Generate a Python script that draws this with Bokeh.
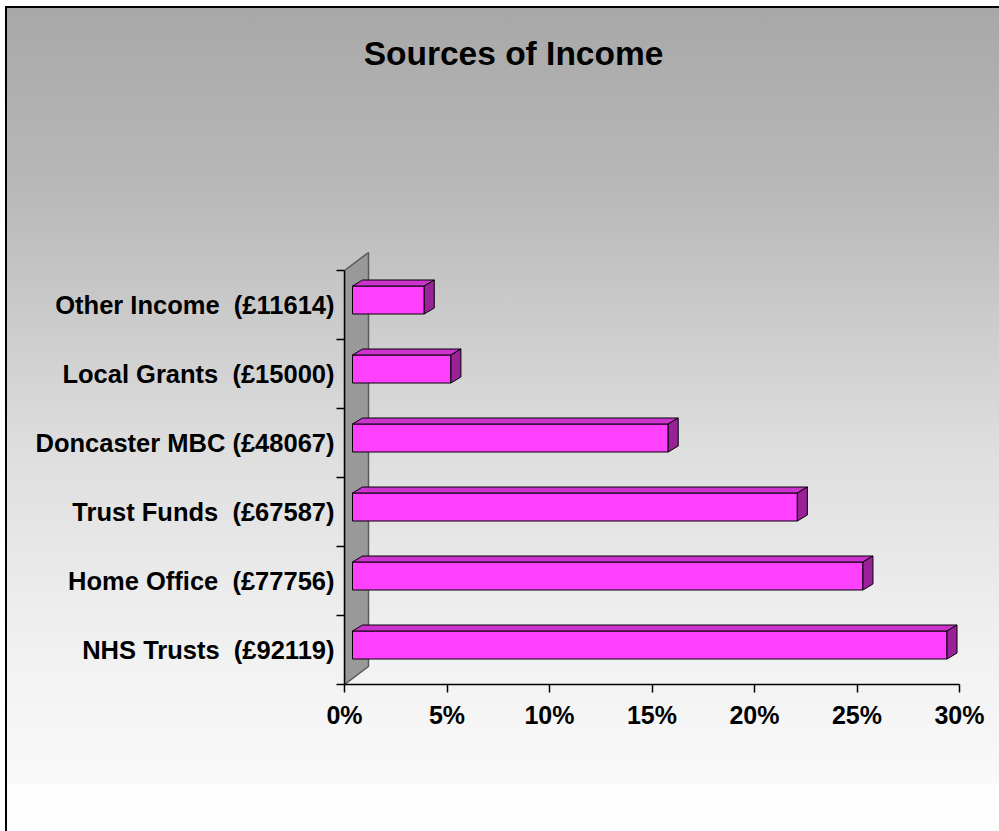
from bokeh.plotting import figure
from bokeh.models import FixedTicker, Label, Range1d, LinearAxis
from bokeh.embed import file_html
from bokeh.resources import INLINE

# ---- data (bottom to top) ----
categories = ["NHS Trusts  (£92119)", "Home Office  (£77756)", "Trust Funds  (£67587)",
              "Doncaster MBC (£48067)", "Local Grants  (£15000)", "Other Income  (£11614)"]
percent = [29.0, 24.9, 21.7, 15.4, 4.8, 3.5]
x_ticks = [0, 5, 10, 15, 20, 25, 30]
x_tick_labels = ["0%", "5%", "10%", "15%", "20%", "25%", "30%"]
title_text = "Sources of Income"

# ---- layout constants ----
W, H = 999, 831
LEFT, BOTTOM = 344, 147
PX_X = 615 / 30.0     # px per percent
PX_Y = 69.0           # px per category row
x_end = (W - LEFT) / PX_X
y_end = (H - BOTTOM) / PX_Y
n = len(categories)

# 3D offsets (px -> data)
dxf, dyf = 8 / PX_X, 5 / PX_Y       # bar front face offset
dxb, dyb = 18 / PX_X, 11 / PX_Y     # bar back face offset
dxw, dyw = 24 / PX_X, 18 / PX_Y     # wall depth
bh = 28 / PX_Y                      # bar height

FONT = "Liberation Sans"

css_bg = (
    "linear-gradient(#000,#000) 5px 6px / 2px 825px no-repeat, "
    "linear-gradient(#000,#000) 5px 6px / 994px 2px no-repeat, "
    "linear-gradient(to bottom, #a8a8a8 0px, #b9b9b9 190px, #cacaca 302px, #dedede 442px, "
    "#f1f1f1 642px, #f9f9f9 772px, #f9f9f9 775px, #fefefe 776px, #fefefe 823px) 7px 8px / 992px 823px no-repeat, "
    "#ffffff"
)

p = figure(width=W, height=H, x_range=Range1d(0, x_end), y_range=Range1d(0, y_end),
           min_border_left=LEFT, min_border_right=0, min_border_top=0, min_border_bottom=BOTTOM,
           output_backend="svg", toolbar_location=None, x_axis_type=None, y_axis_type=None)
p.background_fill_color = None
p.border_fill_color = None
p.outline_line_color = None
p.xgrid.visible = False if p.xgrid else None
p.styles = {"background": css_bg}

# wall
p.patch(x=[0, dxw, dxw, 0], y=[0, dyw, n + dyw, n], fill_color="#999999",
        line_color="#5a5a5a", line_width=1.5)

centers = [i + 0.5 for i in range(n)]
# front faces
p.quad(left=[dxf] * n, right=[v + dxf for v in percent],
       bottom=[c - bh / 2 + dyf for c in centers], top=[c + bh / 2 + dyf for c in centers],
       fill_color="#ff40ff", line_color="#000000", line_width=1)
# top faces
top_xs = [[dxf, v + dxf, v + dxb, dxb] for v in percent]
top_ys = [[c + bh / 2 + dyf, c + bh / 2 + dyf, c + bh / 2 + dyb, c + bh / 2 + dyb] for c in centers]
p.patches(xs=top_xs, ys=top_ys, fill_color="#cc33cc", line_color="#000000", line_width=1)
# side faces
side_xs = [[v + dxf, v + dxb, v + dxb, v + dxf] for v in percent]
side_ys = [[c - bh / 2 + dyf, c - bh / 2 + dyb, c + bh / 2 + dyb, c + bh / 2 + dyf] for c in centers]
p.patches(xs=side_xs, ys=side_ys, fill_color="#992299", line_color="#000000", line_width=1)

# axes
xaxis = LinearAxis(ticker=FixedTicker(ticks=x_ticks), bounds=(x_ticks[0], x_ticks[-1]))
xaxis.major_label_overrides = {t: l for t, l in zip(x_ticks, x_tick_labels)}
xaxis.major_tick_in = 0
xaxis.major_tick_out = 8
xaxis.minor_tick_line_color = None
xaxis.major_label_standoff = 8
xaxis.axis_line_width = 1.5
xaxis.major_tick_line_width = 1.5
xaxis.major_label_text_font = FONT
xaxis.major_label_text_font_style = "bold"
xaxis.major_label_text_font_size = "25px"
xaxis.major_label_text_color = "#000000"
p.add_layout(xaxis, "below")

cat_labels = [c.replace("  ", " \u00a0") for c in categories]
yaxis = LinearAxis(ticker=FixedTicker(ticks=centers, minor_ticks=list(range(n + 1))), bounds=(0, n))
yaxis.major_label_overrides = {c: l for c, l in zip(centers, cat_labels)}
yaxis.major_tick_in = 0
yaxis.major_tick_out = 8
yaxis.major_tick_line_color = None
yaxis.minor_tick_in = 0
yaxis.minor_tick_out = 8
yaxis.minor_tick_line_width = 1.5
yaxis.axis_line_width = 1.5
yaxis.major_label_standoff = 2
yaxis.major_label_orientation = "horizontal"
yaxis.major_label_text_font = FONT
yaxis.major_label_text_font_style = "bold"
yaxis.major_label_text_font_size = "25.5px"
yaxis.major_label_text_color = "#000000"
p.add_layout(yaxis, "left")

title = Label(x=(513 - LEFT) / PX_X, y=(H - BOTTOM - 53) / PX_Y, text=title_text,
              text_align="center", text_baseline="middle", text_font=FONT,
              text_font_style="bold", text_font_size="33.5px", text_color="#000000")
p.add_layout(title)

open("out.html", "w").write(file_html(p, INLINE))
